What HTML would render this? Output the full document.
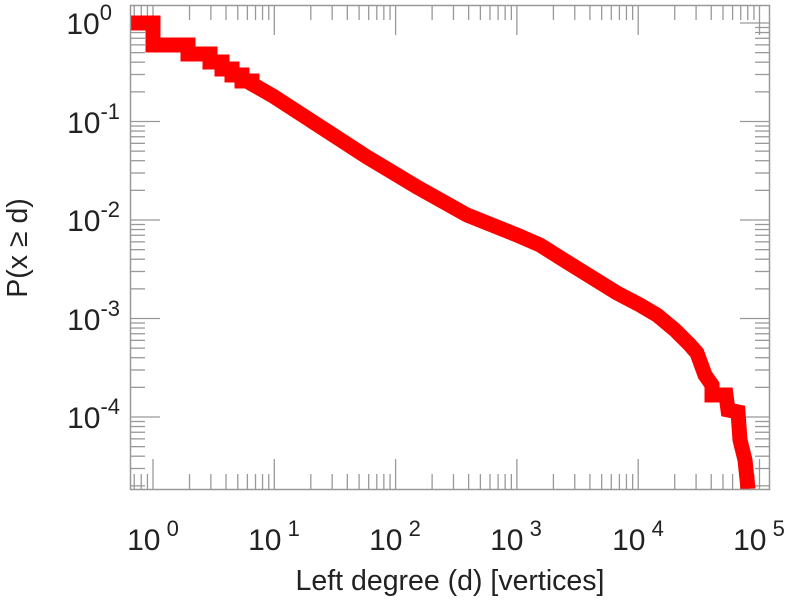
<!DOCTYPE html>
<html><head><style>
html,body{margin:0;padding:0;background:#fff;}
svg{display:block;font-family:"Liberation Sans",sans-serif;}
</style></head><body>
<svg id="s" width="790" height="600" viewBox="0 0 790 600" xmlns="http://www.w3.org/2000/svg">
<g id="ticks" stroke="#999" stroke-width="1.3"></g>
<polyline fill="none" stroke="#ff0000" stroke-width="15" stroke-linejoin="miter" points="130,23 153,23 153,45 188,45 188,54 210,54 210,62 222,62 222,69 232,69 232,75 242,75 242,81 252,81 252,84 273,96 310,120 367,157 417,187 467,215 517,235 540,245 567,262 617,293 640,305 657,315 675,330 690,345 697,353 705,375 712,385 712,395 726,395 728,410 738,412 740,440 745,460 748,489"/>
<rect x="130.5" y="5.5" width="639" height="484" fill="none" stroke="#999" stroke-width="1.5"/>
<g font-size="30" fill="#222" text-anchor="end">
<text x="112" y="34">10<tspan dy="-14" font-size="22">0</tspan></text>
<text x="120" y="133">10<tspan dy="-14" font-size="22">-1</tspan></text>
<text x="120" y="231">10<tspan dy="-14" font-size="22">-2</tspan></text>
<text x="120" y="330">10<tspan dy="-14" font-size="22">-3</tspan></text>
<text x="120" y="428">10<tspan dy="-14" font-size="22">-4</tspan></text>
</g>
<g font-size="30" fill="#222" text-anchor="middle">
<text x="153" y="550">10<tspan dy="-14" font-size="22"> 0</tspan></text>
<text x="274" y="550">10<tspan dy="-14" font-size="22"> 1</tspan></text>
<text x="395" y="550">10<tspan dy="-14" font-size="22"> 2</tspan></text>
<text x="516" y="550">10<tspan dy="-14" font-size="22"> 3</tspan></text>
<text x="638" y="550">10<tspan dy="-14" font-size="22"> 4</tspan></text>
<text x="759" y="550">10<tspan dy="-14" font-size="22"> 5</tspan></text>
</g>
<text x="450" y="590" font-size="28.5" fill="#222" text-anchor="middle">Left degree (d) [vertices]</text>
<text transform="translate(27,248) rotate(-90)" font-size="28.5" fill="#222" text-anchor="middle">P(x ≥ d)</text>
</svg>
<script>
var g=document.getElementById('ticks'),h='';
function L(x1,y1,x2,y2){h+='<line x1="'+x1+'" y1="'+y1+'" x2="'+x2+'" y2="'+y2+'"/>';}
var x0=153,dx=121.3,y0=23,dy=98.5;
for(var d=-1;d<=5;d++)for(var m=1;m<10;m++){var x=x0+(d+Math.log10(m))*dx;if(x<131||x>769)continue;var l=m==1?30:15;L(x,489,x,489-l);L(x,5,x,5+l);}
for(var d=-5;d<=0;d++)for(var m=1;m<10;m++){var y=y0-(d+Math.log10(m))*dy;if(y<6||y>488)continue;var l=m==1?30:15;L(130,y,130+l,y);L(770,y,770-l,y);}
g.innerHTML=h;
</script>
</body></html>
